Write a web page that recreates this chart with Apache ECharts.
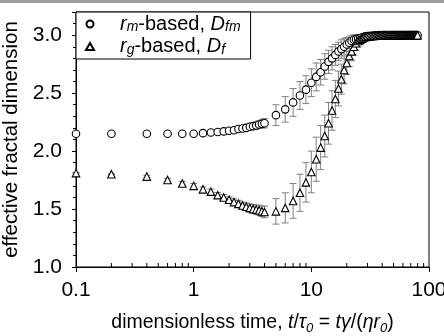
<!DOCTYPE html>
<html>
<head>
<meta charset="utf-8">
<script src="https://cdn.jsdelivr.net/npm/echarts@6/dist/echarts.min.js"></script>
<style>
  html, body { margin: 0; padding: 0; background: #fff; }
  #main { width: 444px; height: 336px; }
</style>
</head>
<body>
<div id="main"></div>
<script>
// time points t/tau0
var timeX = [0.1, 0.2, 0.4, 0.6, 0.8, 1.0, 1.2, 1.4, 1.6, 1.8, 2.0, 2.2, 2.4, 2.6, 2.8, 3.0, 3.2, 3.4, 3.6, 3.8, 4.0,
  5, 6, 7, 8, 9, 10, 11, 12, 13, 14, 15, 16, 17, 18, 19, 20, 21, 22, 23, 24, 25, 26, 27, 28, 29, 30,
  31, 32, 33, 34, 35, 36, 37, 38, 39, 40, 41, 42, 43, 44, 45, 46, 47, 48, 49, 50,
  51, 52, 53, 54, 55, 56, 57, 58, 59, 60, 61, 62, 63, 64, 65, 66, 67, 68, 69, 70,
  71, 72, 73, 74, 75, 76, 77, 78, 79, 80];

// rm-based, Dfm
var dfm = [2.15, 2.15, 2.15, 2.15, 2.15, 2.15, 2.155, 2.16, 2.165, 2.17, 2.175, 2.18, 2.19, 2.195, 2.20, 2.21, 2.215, 2.22, 2.23, 2.235, 2.24,
  2.31, 2.36, 2.42, 2.48, 2.53, 2.59, 2.64, 2.68, 2.73, 2.77, 2.80, 2.83, 2.86, 2.88, 2.90, 2.92, 2.935, 2.95, 2.96, 2.965, 2.97, 2.975, 2.98, 2.985, 2.99, 2.99,
  2.992, 2.993, 2.994, 2.995, 2.996, 2.997, 2.997, 2.998, 2.998, 2.999, 3.0, 3.0, 3.0, 3.0, 3.0, 3.0, 3.0, 3.0, 3.0, 3.0,
  3.0, 3.0, 3.0, 3.0, 3.0, 3.0, 3.0, 3.0, 3.0, 3.0, 3.0, 3.0, 3.0, 3.0, 3.0, 3.0, 3.0, 3.0, 3.0, 3.0,
  3.0, 3.0, 3.0, 3.0, 3.0, 3.0, 3.0, 3.0, 3.0, 3.0];
var dfmErr = [0.005, 0.005, 0.005, 0.005, 0.005, 0.005, 0.01, 0.01, 0.01, 0.01, 0.012, 0.015, 0.018, 0.02, 0.022, 0.025, 0.028, 0.03, 0.032, 0.035, 0.04,
  0.09, 0.11, 0.12, 0.12, 0.12, 0.12, 0.12, 0.11, 0.11, 0.10, 0.10, 0.09, 0.08, 0.08, 0.07, 0.06, 0.05, 0.05, 0.04, 0.04, 0.03, 0.03, 0.02, 0.02, 0.02, 0.02,
  0.015, 0.015, 0.015, 0.015, 0.015, 0.01, 0.01, 0.01, 0.01, 0.01, 0.005, 0.005, 0.005, 0.005, 0.005, 0.005, 0.005, 0.005, 0.005, 0.005,
  0.005, 0.005, 0.005, 0.005, 0.005, 0.005, 0.005, 0.005, 0.005, 0.005, 0.005, 0.005, 0.005, 0.005, 0.005, 0.005, 0.005, 0.005, 0.005, 0.005,
  0.005, 0.005, 0.005, 0.005, 0.005, 0.005, 0.005, 0.005, 0.005, 0.005];

// rg-based, Df
var df = [1.81, 1.80, 1.78, 1.75, 1.72, 1.70, 1.67, 1.65, 1.62, 1.60, 1.58, 1.56, 1.545, 1.53, 1.52, 1.51, 1.50, 1.495, 1.49, 1.48, 1.475,
  1.48, 1.51, 1.57, 1.64, 1.73, 1.82, 1.93, 2.03, 2.13, 2.24, 2.35, 2.45, 2.54, 2.62, 2.70, 2.76, 2.82, 2.86, 2.90, 2.93, 2.95, 2.96, 2.97, 2.98, 2.985, 2.99,
  2.99, 2.992, 2.993, 2.994, 2.995, 2.996, 2.997, 2.998, 2.998, 2.999, 3.0, 3.0, 3.0, 3.0, 3.0, 3.0, 3.0, 3.0, 3.0, 3.0,
  3.0, 3.0, 3.0, 3.0, 3.0, 3.0, 3.0, 3.0, 3.0, 3.0, 3.0, 3.0, 3.0, 3.0, 3.0, 3.0, 3.0, 3.0, 3.0, 3.0,
  3.0, 3.0, 3.0, 3.0, 3.0, 3.0, 3.0, 3.0, 3.0, 3.0];
var dfErr = [0.005, 0.005, 0.01, 0.015, 0.018, 0.02, 0.02, 0.022, 0.022, 0.025, 0.025, 0.028, 0.03, 0.03, 0.032, 0.035, 0.038, 0.04, 0.042, 0.045, 0.05,
  0.11, 0.13, 0.15, 0.16, 0.17, 0.18, 0.19, 0.19, 0.18, 0.18, 0.17, 0.16, 0.15, 0.13, 0.12, 0.10, 0.09, 0.08, 0.07, 0.06, 0.05, 0.04, 0.03, 0.03, 0.02, 0.02,
  0.015, 0.015, 0.015, 0.015, 0.015, 0.01, 0.01, 0.01, 0.01, 0.01, 0.005, 0.005, 0.005, 0.005, 0.005, 0.005, 0.005, 0.005, 0.005, 0.005,
  0.005, 0.005, 0.005, 0.005, 0.005, 0.005, 0.005, 0.005, 0.005, 0.005, 0.005, 0.005, 0.005, 0.005, 0.005, 0.005, 0.005, 0.005, 0.005, 0.005,
  0.005, 0.005, 0.005, 0.005, 0.005, 0.005, 0.005, 0.005, 0.005, 0.005];

// minor ticks of the log axis
var minorTickX = [0.2, 0.3, 0.4, 0.5, 0.6, 0.7, 0.8, 0.9, 2, 3, 4, 5, 6, 7, 8, 9, 20, 30, 40, 50, 60, 70, 80, 90];

var FONT = 'Liberation Sans';

function pts(ys) {
  return timeX.map(function (x, i) { return [x, ys[i]]; });
}
function bars(ys, es) {
  return timeX.map(function (x, i) { return [x, ys[i] - es[i], ys[i] + es[i]]; });
}

function renderErr(params, api) {
  var lo = api.coord([api.value(0), api.value(1)]);
  var hi = api.coord([api.value(0), api.value(2)]);
  var w = 3.5;
  var st = { stroke: '#808080', lineWidth: 1 };
  return {
    type: 'group',
    children: [
      { type: 'line', shape: { x1: lo[0], y1: lo[1], x2: hi[0], y2: hi[1] }, style: st },
      { type: 'line', shape: { x1: lo[0] - w, y1: lo[1], x2: lo[0] + w, y2: lo[1] }, style: st },
      { type: 'line', shape: { x1: hi[0] - w, y1: hi[1], x2: hi[0] + w, y2: hi[1] }, style: st }
    ]
  };
}

function rich(size, lh) {
  var sub = Math.round(size * 0.68);
  return {
    n: { fontFamily: FONT, fontSize: size, color: '#000', lineHeight: lh, verticalAlign: 'middle' },
    i: { fontFamily: FONT, fontSize: size, fontStyle: 'italic', color: '#000', lineHeight: lh, verticalAlign: 'middle' },
    s: { fontFamily: FONT, fontSize: sub, fontStyle: 'italic', color: '#000', lineHeight: sub, verticalAlign: 'bottom' }
  };
}

var legendText = {
  'rm-based, Dfm': '{i|r}{s|m}{n|-based, }{i|D}{s|fm}',
  'rg-based, Df': '{i|r}{s|g}{n|-based, }{i|D}{s|f}'
};

var myChart = echarts.init(document.getElementById('main'));
var option = {
  backgroundColor: '#fff',
  animation: false,
  graphic: [
    { type: 'rect', left: 0, top: 0, shape: { width: 444, height: 3 }, style: { fill: '#a0a0a0' } }
  ],
  grid: {
    left: 76, right: 15, top: 12, bottom: 69, outerBoundsMode: 'none', containLabel: false,
    show: true, borderColor: '#000', borderWidth: 1
  },
  legend: {
    orient: 'vertical', left: 76, top: 12,
    padding: [2, 10, 2, 9], itemGap: 2,
    itemWidth: 8, itemHeight: 7,
    borderColor: '#000', borderWidth: 1, backgroundColor: '#fff',
    textStyle: { fontFamily: FONT, fontSize: 20, color: '#000', padding: [0, 0, 0, 21], rich: rich(20, 21) },
    formatter: function (name) { return legendText[name]; },
    data: ['rm-based, Dfm', 'rg-based, Df']
  },
  xAxis: {
    type: 'log', logBase: 10, min: 0.1, max: 100,
    name: '{n|dimensionless time, }{i|t}{n|/}{i|τ}{s|0}{n| = }{i|tγ}{n|/(}{i|ηr}{s|0}{n|)}',
    nameLocation: 'middle', nameGap: 44,
    nameTextStyle: { rich: rich(19.5, 24) },
    axisLine: { onZero: false, lineStyle: { color: '#000', width: 1 } },
    axisTick: { length: 5, lineStyle: { color: '#000' } },
    axisLabel: { fontFamily: FONT, fontSize: 21, color: '#000', margin: 13 },
    splitLine: { show: false }
  },
  yAxis: {
    type: 'value', min: 1, max: 3.2, interval: 0.5,
    name: 'effective fractal dimension',
    nameLocation: 'middle', nameGap: 53,
    nameTextStyle: { fontFamily: FONT, fontSize: 20.5, color: '#000' },
    axisLine: { lineStyle: { color: '#000', width: 1 } },
    axisTick: { length: 4, lineStyle: { color: '#000' } },
    minorTick: { show: true, splitNumber: 5, length: 3, lineStyle: { color: '#000' } },
    axisLabel: {
      fontFamily: FONT, fontSize: 21, color: '#000', margin: 14, showMaxLabel: false,
      formatter: function (v) { return v.toFixed(1); }
    },
    splitLine: { show: false }
  },
  series: [
    {
      type: 'custom', name: 'minorTicks', silent: true, clip: false, z: 1,
      data: minorTickX.map(function (x) { return [x, 1]; }),
      renderItem: function (params, api) {
        var p = api.coord([api.value(0), api.value(1)]);
        return { type: 'line', shape: { x1: p[0], y1: p[1], x2: p[0], y2: p[1] - 4 }, style: { stroke: '#000', lineWidth: 1 } };
      }
    },
    { type: 'custom', name: 'errDfm', silent: true, z: 2, data: bars(dfm, dfmErr), encode: { x: 0, y: [1, 2] }, renderItem: renderErr },
    { type: 'custom', name: 'errDf', silent: true, z: 2, data: bars(df, dfErr), encode: { x: 0, y: [1, 2] }, renderItem: renderErr },
    {
      type: 'scatter', name: 'rm-based, Dfm', z: 3,
      symbol: 'circle', symbolSize: 7.5,
      itemStyle: { color: '#fff', borderColor: '#000', borderWidth: 1.1, opacity: 1 },
      data: pts(dfm)
    },
    {
      type: 'scatter', name: 'rg-based, Df', z: 4,
      symbol: 'triangle', symbolSize: 7.5,
      itemStyle: { color: '#fff', borderColor: '#000', borderWidth: 1.1, opacity: 1 },
      data: pts(df)
    }
  ]
};
myChart.setOption(option);
</script>
</body>
</html>
